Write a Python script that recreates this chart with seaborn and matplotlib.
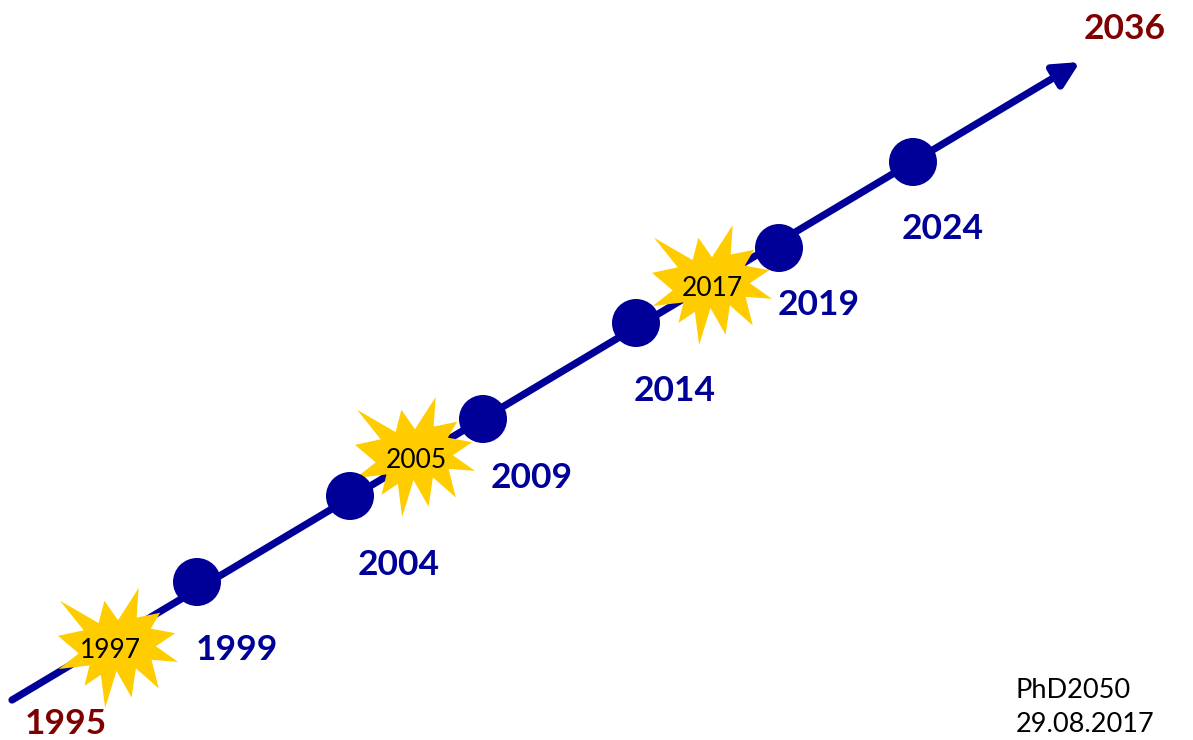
import numpy as np
import pandas as pd
import matplotlib
matplotlib.use("Agg")
import matplotlib.pyplot as plt
from matplotlib.path import Path
import seaborn as sns

# ---- data (chart units: pixels of a 1193 x 740 canvas, y downward) ----
timeline_start = [12, 700]
timeline_end = [1080, 62]

milestone_years = ["1999", "2004", "2009", "2014", "2019", "2024"]
milestone_x = [197, 350, 483, 636, 779, 913]
milestone_y = [582, 496, 419, 323, 248, 162]
milestone_label_x = [196, 358, 491, 634, 778, 902]
milestone_label_y = [650, 565, 478, 391, 305, 229]

event_years = ["1997", "2005", "2017"]
event_x = [118, 415, 712]
event_y = [648, 457, 285]
event_label_x = [80, 386, 682]
event_label_y = [651, 461, 289]

end_years = ["1995", "2036"]
end_label_x = [25, 1084]
end_label_y = [724, 29]

note_lines = ["PhD2050", "29.08.2017"]
note_x = 1016
note_y = [690, 724]

# ---- styles ----
BLUE = "#000099"
RED = "#7F0000"
YELLOW = "#FFCC00"

sns.set_theme(style="white")
plt.rcParams["font.family"] = ["Lato", "DejaVu Sans"]

fig = plt.figure(figsize=(11.93, 7.40), dpi=100)
ax = fig.add_axes([0, 0, 1, 1])
ax.set_xlim(0, 1193)
ax.set_ylim(740, 0)
ax.axis("off")

# timeline arrow
ax.annotate("", xy=timeline_end, xytext=timeline_start,
            arrowprops=dict(arrowstyle="-|>", lw=5.2, color=BLUE,
                            mutation_scale=38, shrinkA=0, shrinkB=0),
            zorder=1)

# explosion (irregular seal) marker
seal = np.array([
    (10800, 5800), (14522, 0), (14155, 5325), (18380, 4457), (16702, 7315),
    (21097, 8137), (17607, 10475), (21600, 13290), (16837, 12942), (18145, 18095),
    (14020, 14457), (13247, 19737), (10532, 14935), (8485, 21600), (7715, 15627),
    (4762, 17617), (5667, 13937), (135, 14587), (3722, 11775), (0, 8615),
    (4627, 7617), (370, 2295), (7312, 6320), (8352, 2295), (10800, 5800)], float)
seal = seal / 21600.0 - 0.5
seal[:, 1] = -seal[:, 1]
codes = [Path.MOVETO] + [Path.LINETO] * (len(seal) - 2) + [Path.CLOSEPOLY]
seal_path = Path(seal, codes)

events = pd.DataFrame({"x": event_x, "y": event_y, "year": event_years})
sns.scatterplot(data=events, x="x", y="y", marker=seal_path, s=(120 * 0.72) ** 2,
                color=YELLOW, edgecolor="none", linewidth=0, ax=ax, zorder=2,
                legend=False)

milestones = pd.DataFrame({"x": milestone_x, "y": milestone_y, "year": milestone_years})
sns.scatterplot(data=milestones, x="x", y="y", marker="o", s=(48 * 0.72) ** 2,
                color=BLUE, edgecolor="none", linewidth=0, ax=ax, zorder=3,
                legend=False)

for yr, lx, ly in zip(milestone_years, milestone_label_x, milestone_label_y):
    ax.text(lx, ly, yr, color=BLUE, fontsize=25.5, fontweight="bold",
            ha="left", va="center", zorder=5)

for yr, lx, ly in zip(event_years, event_label_x, event_label_y):
    ax.text(lx, ly, yr, color="black", fontsize=19, ha="left", va="center", zorder=5)

for yr, lx, ly in zip(end_years, end_label_x, end_label_y):
    ax.text(lx, ly, yr, color=RED, fontsize=25.5, fontweight="bold",
            ha="left", va="center", zorder=5)

for line, ly in zip(note_lines, note_y):
    ax.text(note_x, ly, line, color="black", fontsize=19.5, ha="left", va="center", zorder=5)

ax.set_xlabel("")
ax.set_ylabel("")
fig.savefig("out.png", dpi=100, facecolor="white")
